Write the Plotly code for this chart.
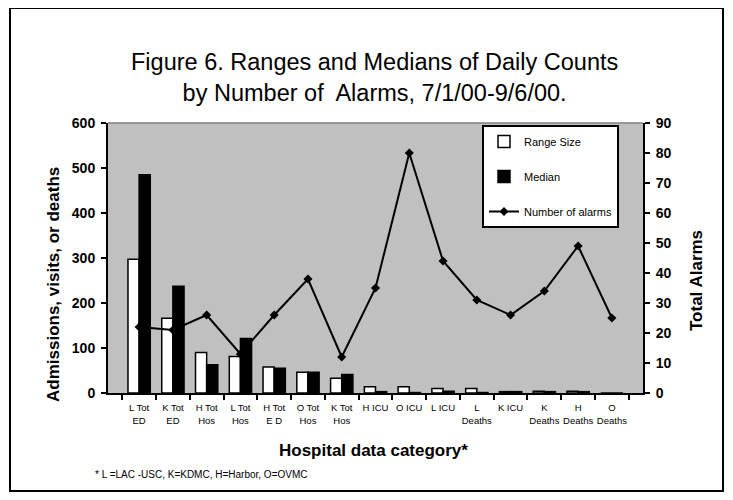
import plotly.graph_objects as go

categories = ["L Tot<br>ED", "K Tot<br>ED", "H Tot<br>Hos", "L Tot<br>Hos", "H Tot<br>E D",
              "O Tot<br>Hos", "K Tot<br>Hos", "H ICU", "O ICU", "L ICU",
              "L<br>Deaths", "K ICU", "K<br>Deaths", "H<br>Deaths", "O<br>Deaths"]
range_size = [297, 166, 90, 81, 58, 46, 33, 14, 14, 10, 10, 3, 4, 4, 0]
median = [485, 237, 63, 121, 55, 46, 41, 3, 1, 4, 1, 3, 3, 3, 0]
alarms = [22, 21, 26, 13, 26, 38, 12, 35, 80, 44, 31, 26, 34, 49, 25]

left_ticks = [0, 100, 200, 300, 400, 500, 600]
right_ticks = [0, 10, 20, 30, 40, 50, 60, 70, 80, 90]

FONT = "Liberation Sans, Arial, sans-serif"

# page offset of the figure (body margin)
OFF = 8
W, H = 733 - 2 * OFF, 500 - 2 * OFF
# plot area in page pixels
L, R, T, B = 108, 643, 123, 393

def px(x):
    return (x - L) / (R - L)

def py(y):
    return (B - y) / (B - T)

fig = go.Figure()
fig.add_trace(go.Bar(
    x=categories, y=range_size, name="Range Size", legendgroup="a",
    marker=dict(color="white", line=dict(color="black", width=1.5)),
))
fig.add_trace(go.Bar(
    x=categories, y=median, name="Median", legendgroup="b",
    marker=dict(color="black", line=dict(color="black", width=1.5)),
))
fig.add_trace(go.Scatter(
    x=categories, y=alarms, name="Number of alarms", legendgroup="c", yaxis="y2",
    mode="lines+markers", line=dict(color="black", width=2),
    marker=dict(symbol="diamond", size=7, color="black"),
))

fig.update_layout(
    width=W, height=H,
    margin=dict(l=L - OFF, r=W - (R - OFF), t=T - OFF, b=H - (B - OFF), pad=0),
    paper_bgcolor="white", plot_bgcolor="#C0C0C0",
    barmode="group", bargap=0.34, bargroupgap=0,
    font=dict(family=FONT, color="black"),
    showlegend=True,
    legend=dict(
        x=px(482), y=py(125), xanchor="left", yanchor="top",
        bgcolor="white", bordercolor="black", borderwidth=2, itemwidth=30,
        font=dict(size=11, family=FONT), traceorder="grouped", tracegroupgap=16,
    ),
    xaxis=dict(
        type="category", tickson="boundaries", ticks="outside", ticklen=5, tickwidth=2,
        tickcolor="black", showline=True, linecolor="black", linewidth=2,
        tickfont=dict(size=9.5, family=FONT), tickangle=0, showgrid=False,
        ticklabelstandoff=5,
    ),
    yaxis=dict(
        range=[0, 600], tickvals=left_ticks, ticks="outside", ticklen=5, tickwidth=2,
        tickcolor="black", showline=True, linecolor="black", linewidth=2,
        tickfont=dict(size=14, family=FONT, weight="bold"), showgrid=False, zeroline=False,
        ticklabelstandoff=3,
    ),
    yaxis2=dict(
        range=[0, 90], tickvals=right_ticks, overlaying="y", side="right",
        ticks="outside", ticklen=5, tickwidth=2, tickcolor="black",
        showline=True, linecolor="black", linewidth=2,
        tickfont=dict(size=14, family=FONT, weight="bold"), showgrid=False, zeroline=False,
        ticklabelstandoff=3,
    ),
    shapes=[
        dict(type="rect", xref="paper", yref="paper", x0=px(10), x1=px(723), y0=py(491), y1=py(8),
             line=dict(color="black", width=2), fillcolor="rgba(0,0,0,0)", layer="below"),
        dict(type="line", xref="paper", yref="paper", x0=0, x1=1, y0=1, y1=1,
             line=dict(color="#808080", width=1.5)),
    ],
    annotations=[
        dict(text="Figure 6. Ranges and Medians of Daily Counts<br>by Number of  Alarms, 7/1/00-9/6/00.",
             xref="paper", yref="paper", x=px(374), y=py(78), xanchor="center", yanchor="middle",
             showarrow=False, font=dict(size=23.5, family=FONT)),
        dict(text="<b>Admissions, visits, or deaths</b>", xref="paper", yref="paper",
             x=px(53), y=py(285), textangle=-90, showarrow=False,
             xanchor="center", yanchor="middle", font=dict(size=17, family=FONT)),
        dict(text="<b>Total Alarms</b>", xref="paper", yref="paper",
             x=px(696), y=py(281), textangle=-90, showarrow=False,
             xanchor="center", yanchor="middle", font=dict(size=17, family=FONT)),
        dict(text="<b>Hospital data category*</b>", xref="paper", yref="paper",
             x=px(373), y=py(450), showarrow=False,
             xanchor="center", yanchor="middle", font=dict(size=17, family=FONT)),
        dict(text="* L =LAC -USC, K=KDMC, H=Harbor, O=OVMC", xref="paper", yref="paper",
             x=px(93), y=py(474), showarrow=False,
             xanchor="left", yanchor="middle", font=dict(size=10, family=FONT)),
    ],
)

fig.write_html("out.html")
